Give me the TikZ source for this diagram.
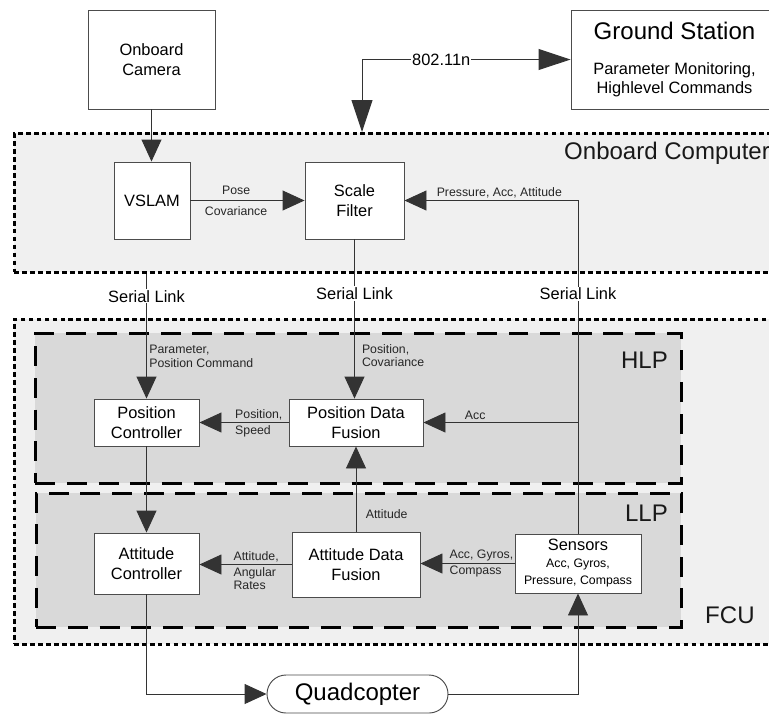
\documentclass[tikz,border=0pt]{standalone}
\usepackage{fontspec}
\setmainfont{Liberation Sans}
\usetikzlibrary{arrows.meta, positioning, shapes.misc}

\newcommand{\boxsize}{\fontsize{14}{17}\selectfont}
\newcommand{\labelsize}{\fontsize{10.5}{11.5}\selectfont}
\newcommand{\titlesize}{\fontsize{20.5}{24}\selectfont}

\begin{document}
\begin{tikzpicture}[
    x=0.03cm, y=-0.03cm, % one unit is one pixel, y runs downwards
    >={Triangle[length=0.66cm, width=0.6cm]}, % default arrow tip
    wire/.style={draw=black!80, line width=0.8pt}, % style for connectors
    wifi/.style={wire, {Triangle[length=0.96cm, width=0.63cm]}-{Triangle[length=0.96cm, width=0.63cm]}},
    block/.style={draw=black!70, fill=white, line width=0.8pt, align=center, font=\boxsize, inner sep=0pt}, % boxes
    computer/.style={draw=black, fill=gray!12, line width=2.4pt, dash pattern=on 4pt off 2.8pt, inner sep=0pt},
    processor/.style={draw=black, fill=gray!30, line width=2.4pt, dash pattern=on 17pt off 10pt, inner sep=0pt},
    labelstyle/.style={font=\labelsize, text=black!85, inner sep=2pt, align=left}, % style for small labels
    title/.style={font=\titlesize, text=black!90, inner sep=0pt},
    serial/.style={font=\boxsize, fill=white, inner sep=1pt}
]

    % Canvas
    \useasboundingbox (0,0) rectangle (769,714);
    \clip (0,0) rectangle (769,714);
    \fill[white] (0,0) rectangle (769,714);

    % Onboard computer
    \node[computer, anchor=north west, minimum width=23.61cm, minimum height=4.17cm] (obc) at (13,132) {};
    \node[title, anchor=west] (obctitle) at (564,153) {Onboard Computer};

    % Flight control unit with HLP and LLP
    \node[computer, anchor=north west, minimum width=23.61cm, minimum height=9.75cm] (fcu) at (13,318) {};
    \node[processor, anchor=north west, minimum width=19.38cm, minimum height=4.5cm] (hlp) at (34,332) {};
    \node[processor, anchor=north west, minimum width=19.35cm, minimum height=4.02cm] (llp) at (35,492) {};
    \node[title, anchor=east] (hlptitle) at (668,360) {HLP};
    \node[title, anchor=east] (llptitle) at (668,513) {LLP};
    \node[title, anchor=west] (fcutitle) at (705,615) {FCU};

    % Blocks
    \node[block, minimum width=3.81cm, minimum height=2.97cm] (cam) at (151.5,59.5) {Onboard\\Camera};
    \node[block, minimum width=6.21cm, minimum height=2.97cm] (gs) at (674.5,59.5)
        {{\titlesize Ground Station}\\[13pt]Parameter Monitoring,\\[-1pt]Highlevel Commands};
    \node[block, minimum width=2.28cm, minimum height=2.31cm] (vslam) at (152,200.5) {VSLAM};
    \node[block, minimum width=2.97cm, minimum height=2.31cm] (sf) at (354.5,200.5) {Scale\\Filter};
    \node[block, minimum width=3.15cm, minimum height=1.41cm] (pc) at (146.5,422.5) {Position\\Controller};
    \node[block, minimum width=4.02cm, minimum height=1.41cm] (pdf) at (356,422.5) {Position Data\\Fusion};
    \node[block, minimum width=3.15cm, minimum height=1.83cm] (ac) at (146.5,563.5) {Attitude\\Controller};
    \node[block, minimum width=3.84cm, minimum height=1.95cm] (adf) at (356,564.5) {Attitude Data\\Fusion};
    \node[block, minimum width=3.78cm, minimum height=1.77cm] (sens) at (578,563.5)
        {Sensors\\[-2.5pt]{\labelsize Acc, Gyros,}\\[-2.5pt]{\labelsize Pressure, Compass}};
    \node[block, rounded rectangle, font=\titlesize, minimum width=5.43cm, minimum height=1.14cm] (quad) at (357.5,694) {Quadcopter};

    % Wireless link to the ground station
    \coordinate (wifiend) at (362,132);
    \draw[wifi] (wifiend) |- (gs) node[serial, pos=0.69] {802.11n};

    % Onboard computer connectors
    \draw[wire, ->] (cam) -- (cam |- vslam.north);
    \draw[wire, ->] (vslam) -- (sf)
        node[labelstyle, pos=0.4, above=3pt] {Pose}
        node[labelstyle, pos=0.4, below=3pt] {Covariance};
    \draw[wire, ->] (sens.north) |- (sf.east)
        node[serial, pos=0.36] {Serial Link}
        node[labelstyle, pos=0.915, anchor=south west] {Pressure, Acc, Attitude};

    % Serial links down to the HLP
    \draw[wire, ->] (obc.south -| pc) -- (pc)
        node[serial, pos=0.18] {Serial Link}
        node[labelstyle, pos=0.66, right] {Parameter,\\Position Command};
    \draw[wire, ->] (sf.south) -- (sf.south |- pdf.north)
        node[serial, pos=0.34] {Serial Link}
        node[labelstyle, pos=0.73, right=4pt] {Position,\\Covariance};

    % HLP connectors
    \draw[wire, ->] (sens.north |- pdf) -- (pdf) node[labelstyle, pos=0.75, anchor=south west] {Acc};
    \draw[wire, ->] (pdf) -- (pc)
        node[labelstyle, pos=0.63, anchor=south west] {Position,}
        node[labelstyle, pos=0.63, anchor=north west] {Speed};
    \draw[wire, ->] (pc) -- (ac);

    % LLP connectors
    \draw[wire, ->] (adf) -- (pdf) node[labelstyle, pos=0.2, right=6pt] {Attitude};
    \draw[wire, ->] (adf) -- (adf -| ac.east)
        node[labelstyle, pos=0.66, anchor=south west] {Attitude,}
        node[labelstyle, pos=0.66, anchor=north west] {Angular\\Rates};
    \draw[wire, ->] (sens) -- (sens -| adf.east)
        node[labelstyle, pos=0.72, anchor=south west] {Acc, Gyros,}
        node[labelstyle, pos=0.72, anchor=north west] {Compass};

    % Loop through the quadcopter
    \draw[wire, ->] (ac) |- (quad);
    \draw[wire, ->] (quad) -| (sens);

\end{tikzpicture}
\end{document}
